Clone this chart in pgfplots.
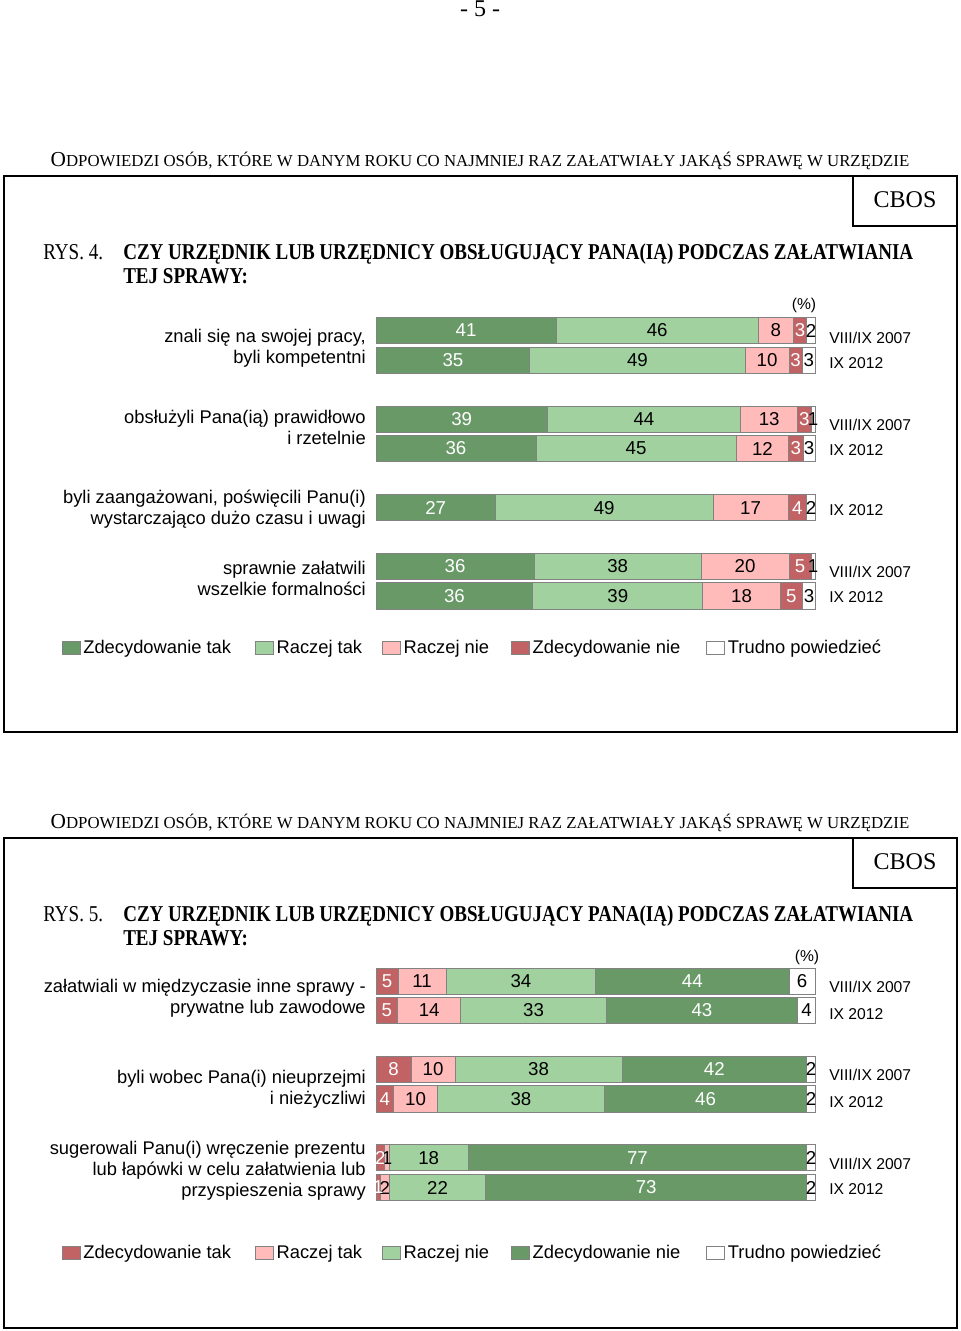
\documentclass[border=0pt]{standalone}
\usepackage{fontspec}
\setmainfont{Liberation Serif}
\newfontfamily\arial{Liberation Sans}
\usepackage{graphicx}
\usepackage{pgfplots}
\usepackage{pgfplotstable}
\pgfplotsset{compat=1.18}

\definecolor{dg}{RGB}{104,153,102}
\definecolor{lg}{RGB}{161,209,159}
\definecolor{pk}{RGB}{255,186,186}
\definecolor{rd}{RGB}{193,99,100}
\definecolor{edge}{RGB}{130,130,130}

\newcommand\catfont{\arial\fontsize{13.75}{16}\selectfont}
\newcommand\yrfont{\arial\fontsize{11.75}{14}\selectfont}
\newcommand\numfont{\arial\fontsize{14}{16}\selectfont}
\newcommand\titfont{\fontsize{17}{20}\selectfont\bfseries}
\newcommand\rysfont{\fontsize{17}{20}\selectfont}

% Fig. 4: widths of the segments (a..e) and their printed labels (la..le)
\pgfplotstableread{
y     a    b    c    d   e   la lb lc ld le
330.5 41   46   8    3   2   41 46 8  3  2
360.3 35   49   10   3   3   35 49 10 3  3
419.2 39   44   13   3   1   39 44 13 3  1
448.5 36.4 45.6 11.9 3.3 2.8 36 45 12 3  3
507.7 27.2 49.5 17.1 4.2 2.0 27 49 17 4  2
566.3 36   38   20   5   1   36 38 20 5  1
595.8 35.7 38.7 17.6 5.1 2.9 36 39 18 5  3
}\figfour

% Fig. 5
\pgfplotstableread{
y      a   b    c    d    e   la lb lc ld le
981.2  5   11   34   44   6   5  11 34 44 6
1010.5 4.9 14.4 33.1 43.6 4.0 5  14 33 43 4
1069.2 8   10   38   42   2   8  10 38 42 2
1099.0 4   10   38   46   2   4  10 38 46 2
1157.7 2   1    18   77   2   2  1  18 77 2
1187.5 1   2    22   73   2   1  2  22 73 2
}\figfive

\newcommand\seg[5]{%
\addplot[fill=#1, draw=edge, line width=0.6pt,
  nodes near coords, point meta=explicit symbolic,
  every node near coord/.append style={text=#2, anchor=center,
    font=\numfont, inner sep=0pt}]
  table[x=#3, y=y, meta=#4] {#5};}

\pgfplotsset{
  barfig/.style={
    x=3.295pt, y=0.75pt, y dir=reverse,
    xmin=0, xmax=100,
    hide axis, clip=false,
    xbar stacked, bar width=19.7pt,
    legend image code/.code={\draw[##1, draw=edge, line width=0.6pt] (0pt,-4.75pt) rectangle (13.5pt,4.75pt);},
    legend columns=5,
    legend cell align=left,
    legend style={draw=none, fill=none, inner sep=0pt, outer sep=0pt,
      font=\catfont,
      /tikz/every even column/.append style={column sep=16pt}},
  }
}

\begin{document}
\begin{tikzpicture}[x=0.75pt, y=-0.75pt]
\path[use as bounding box] (0,0) rectangle (960,1331);

% page number
\node[anchor=base, inner sep=0] at (480,17) {\fontsize{18}{20}\selectfont - 5 -};

% ---------- Figure 4 ----------
\node[anchor=base, inner sep=0] at (480,166) {\fontsize{16}{18}\selectfont O\fontsize{12.6}{14}\selectfont DPOWIEDZI OSÓB, KTÓRE W DANYM ROKU CO NAJMNIEJ RAZ ZAŁATWIAŁY JAKĄŚ SPRAWĘ W URZĘDZIE};
\draw[line width=1pt] (4,176) rectangle (957,732);
\draw[line width=1pt] (853,176) -- (853,226) -- (957,226);
\node[anchor=base, inner sep=0] at (905,207) {\fontsize{18}{20}\selectfont CBOS};
\node[anchor=base west, inner sep=0] at (43,259.5) {\rysfont\scalebox{0.84}[1]{RYS. 4.}};
\node[anchor=base west, inner sep=0] at (123,259.5) {\titfont\scalebox{0.84}[1]{CZY URZĘDNIK LUB URZĘDNICY OBSŁUGUJĄCY PANA(IĄ) PODCZAS ZAŁATWIANIA}};
\node[anchor=base west, inner sep=0] at (123,283.5) {\titfont\scalebox{0.84}[1]{TEJ SPRAWY:}};
\node[anchor=base, inner sep=0] at (804,309) {\yrfont (\%)};

\foreach \t/\yy in {{znali się na swojej pracy,}/342, {byli kompetentni}/363,
  {obsłużyli Pana(ią) prawidłowo}/423, {i rzetelnie}/444,
  {byli zaangażowani, poświęcili Panu(i)}/503, {wystarczająco dużo czasu i uwagi}/524,
  {sprawnie załatwili}/574, {wszelkie formalności}/595}
  \node[anchor=base east, inner sep=0] at (366,\yy) {\catfont\t};
\foreach \t/\yy in {{VIII/IX 2007}/343, {IX 2012}/368, {VIII/IX 2007}/430, {IX 2012}/455,
  {IX 2012}/515, {VIII/IX 2007}/577, {IX 2012}/602}
  \node[anchor=base west, inner sep=0] at (829,\yy) {\yrfont\t};

\coordinate (P4) at (376,300);
\begin{axis}[barfig, at={(P4)}, anchor=north west, ymin=300, ymax=620,
  legend style={at={(axis cs:-71.5,648)}, anchor=west}]
\seg{dg}{white}{a}{la}{\figfour}
\addlegendentry{Zdecydowanie tak}
\seg{lg}{black}{b}{lb}{\figfour}
\addlegendentry{Raczej tak\kern-3pt}
\seg{pk}{black}{c}{lc}{\figfour}
\addlegendentry{Raczej nie\kern-1.5pt}
\seg{rd}{white}{d}{ld}{\figfour}
\addlegendentry{Zdecydowanie nie\kern1.5pt}
\seg{white}{black}{e}{le}{\figfour}
\addlegendentry{Trudno powiedzieć}
\end{axis}

% ---------- Figure 5 ----------
\node[anchor=base, inner sep=0] at (480,828) {\fontsize{16}{18}\selectfont O\fontsize{12.6}{14}\selectfont DPOWIEDZI OSÓB, KTÓRE W DANYM ROKU CO NAJMNIEJ RAZ ZAŁATWIAŁY JAKĄŚ SPRAWĘ W URZĘDZIE};
\draw[line width=1pt] (4,838) rectangle (957,1328);
\draw[line width=1pt] (853,838) -- (853,888) -- (957,888);
\node[anchor=base, inner sep=0] at (905,869) {\fontsize{18}{20}\selectfont CBOS};
\node[anchor=base west, inner sep=0] at (43,921.5) {\rysfont\scalebox{0.84}[1]{RYS. 5.}};
\node[anchor=base west, inner sep=0] at (123,921.5) {\titfont\scalebox{0.84}[1]{CZY URZĘDNIK LUB URZĘDNICY OBSŁUGUJĄCY PANA(IĄ) PODCZAS ZAŁATWIANIA}};
\node[anchor=base west, inner sep=0] at (123,945.5) {\titfont\scalebox{0.84}[1]{TEJ SPRAWY:}};
\node[anchor=base, inner sep=0] at (807,961) {\yrfont (\%)};

\foreach \t/\yy in {{załatwiali w międzyczasie inne sprawy -}/992, {prywatne lub zawodowe}/1013,
  {byli wobec Pana(i) nieuprzejmi}/1083, {i nieżyczliwi}/1104,
  {sugerowali Panu(i) wręczenie prezentu}/1154, {lub łapówki w celu załatwienia lub}/1175,
  {przyspieszenia sprawy}/1196}
  \node[anchor=base east, inner sep=0] at (366,\yy) {\catfont\t};
\foreach \t/\yy in {{VIII/IX 2007}/992, {IX 2012}/1019, {VIII/IX 2007}/1080, {IX 2012}/1107,
  {VIII/IX 2007}/1169, {IX 2012}/1194}
  \node[anchor=base west, inner sep=0] at (829,\yy) {\yrfont\t};

\coordinate (P5) at (376,950);
\begin{axis}[barfig, at={(P5)}, anchor=north west, ymin=950, ymax=1230,
  legend style={at={(axis cs:-71.5,1253)}, anchor=west}]
\seg{rd}{white}{a}{la}{\figfive}
\addlegendentry{Zdecydowanie tak}
\seg{pk}{black}{b}{lb}{\figfive}
\addlegendentry{Raczej tak\kern-3pt}
\seg{lg}{black}{c}{lc}{\figfive}
\addlegendentry{Raczej nie\kern-1.5pt}
\seg{dg}{white}{d}{ld}{\figfive}
\addlegendentry{Zdecydowanie nie\kern1.5pt}
\seg{white}{black}{e}{le}{\figfive}
\addlegendentry{Trudno powiedzieć}
\end{axis}
\end{tikzpicture}
\end{document}
